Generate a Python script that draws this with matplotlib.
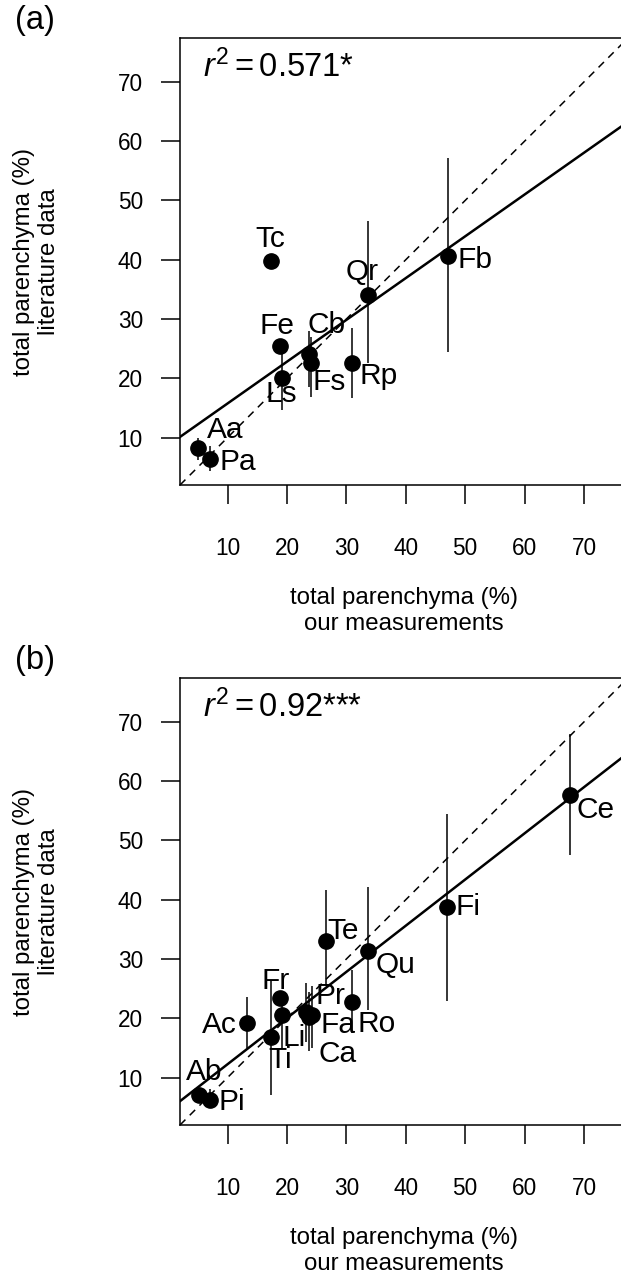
import numpy as np
import matplotlib
matplotlib.use("Agg")
import matplotlib.pyplot as plt

plt.rcParams["font.family"] = ["Liberation Sans", "DejaVu Sans"]
plt.rcParams["mathtext.fontset"] = "custom"
plt.rcParams["mathtext.rm"] = "Liberation Sans"
plt.rcParams["mathtext.it"] = "Liberation Sans:italic"

# ---------------- data ----------------
# panel (a): literature values vs. our measurements (total parenchyma, %)
a_species = ["Aa", "Pa", "Tc", "Fe", "Ls", "Cb", "Fs", "Rp", "Qr", "Fb"]
a_ours = [5.1, 7.1, 17.3, 18.8, 19.2, 23.7, 24.1, 30.9, 33.7, 47.1]
a_lit = [8.2, 6.4, 39.8, 25.4, 20.1, 24.1, 22.5, 22.6, 34.0, 40.7]
a_lit_lo = [6.3, 4.3, np.nan, np.nan, 14.7, 18.5, 16.9, 16.7, 22.6, 24.4]
a_lit_hi = [9.9, 8.5, np.nan, np.nan, 25.3, 28.0, 27.0, 28.4, 46.5, 57.2]
a_fit = (8.7, 0.705)          # intercept, slope
a_r2 = "0.571*"

# panel (b): genus-level comparison
b_species = ["Ab", "Pi", "Ac", "Ti", "Fr", "Li", "Pr", "Ca", "Fa", "Te", "Ro",
             "Qu", "Fi", "Ce"]
b_ours = [5.2, 7.0, 13.3, 17.3, 18.9, 19.2, 23.2, 23.7, 24.2, 26.5, 31.0,
          33.7, 47.0, 67.7]
b_lit = [7.1, 6.3, 19.2, 16.8, 23.5, 20.6, 21.0, 20.3, 20.6, 33.0, 22.7,
         31.4, 38.7, 57.7]
b_lit_lo = [6.0, 4.8, 15.0, 7.1, np.nan, 15.0, 16.0, 14.4, 15.0, 25.5, 17.5,
            21.4, 23.0, 47.5]
b_lit_hi = [8.3, 8.0, 23.6, 26.4, np.nan, 23.5, 26.0, 24.5, 25.5, 41.6, 28.1,
            42.2, 54.5, 67.9]
b_fit = (4.46, 0.779)
b_r2 = "0.92***"

ticks = [10, 20, 30, 40, 50, 60, 70]
xlabel = "total parenchyma (%)\nour measurements"
ylabel = "total parenchyma (%)\nliterature data"

# label offsets (pixels, right / down) from each point
a_offsets = [(27, -18), (28, 3), (-1, -22), (-3, -20), (-1, 16), (18, -29),
             (18, 19), (27, 13), (-6, -23), (27, 4)]
b_offsets = [(5, -23), (22, 2), (-28, 2), (9, 23), (-5, -17), (12, 23),
             (24, -16), (29, 37), (26, 10), (18, -10), (24, 22), (27, 14),
             (21, 0), (25, 15)]

# ---------------- layout ----------------
W, H = 621, 1276
DPI = 100
fig = plt.figure(figsize=(W / DPI, H / DPI), dpi=DPI)
PX2PT = 72.0 / DPI

lim = (2.0, 77.4)
ax_left, ax_w, ax_h = 180, 448, 447


def fig_pos(px, py):
    return px / W, 1 - py / H


def draw_panel(top, tag, species, xs, ys, lo, hi, fit, r2, offsets):
    ax = fig.add_axes([ax_left / W, 1 - (top + ax_h) / H, ax_w / W, ax_h / H])
    ax.set_xlim(*lim)
    ax.set_ylim(*lim)
    for s in ax.spines.values():
        s.set_linewidth(1.1)
    ax.set_xticks(ticks)
    ax.set_yticks(ticks)
    ax.tick_params(axis="both", direction="out", length=19 * PX2PT,
                   width=1.1, labelsize=16.3)
    ax.tick_params(axis="x", pad=24)
    ax.tick_params(axis="y", pad=13)

    # 1:1 line and fitted regression
    ax.axline((0, 0), slope=1, color="black", lw=1.1, ls=(0, (5, 4)))
    xx = np.array(lim)
    ax.plot(xx, fit[0] + fit[1] * xx, color="black", lw=1.8)

    xs = np.asarray(xs)
    ax.vlines(xs, lo, hi, color="black", lw=1.1)
    ax.plot(xs, ys, "o", color="black", ms=11, zorder=5)

    for name, x, y, (dx, dy) in zip(species, xs, ys, offsets):
        ax.annotate(name, (x, y), xytext=(dx * PX2PT, -dy * PX2PT),
                    textcoords="offset points", ha="center", va="center",
                    fontsize=21.5)

    # r^2 annotation
    fx, fy = fig_pos(203, top + 38.7)
    fig.text(fx, fy, r"$r^2 = $" + r2, fontsize=23.5, ha="left",
             va="baseline")

    # axis titles
    fx, fy = fig_pos(404, top + 573)
    fig.text(fx, fy, xlabel, ha="center", va="center", fontsize=17.3,
             linespacing=1.2)
    fx, fy = fig_pos(36.5, top + ax_h / 2)
    fig.text(fx, fy, ylabel, ha="center", va="center", rotation=90,
             fontsize=17.3, linespacing=1.15)

    fx, fy = fig_pos(35, top - 18)
    fig.text(fx, fy, tag, ha="center", va="center", fontsize=23.5)
    return ax


draw_panel(38, "(a)", a_species, a_ours, a_lit, a_lit_lo, a_lit_hi,
           a_fit, a_r2, a_offsets)
draw_panel(678, "(b)", b_species, b_ours, b_lit, b_lit_lo, b_lit_hi,
           b_fit, b_r2, b_offsets)

fig.savefig("out.png", dpi=DPI)
